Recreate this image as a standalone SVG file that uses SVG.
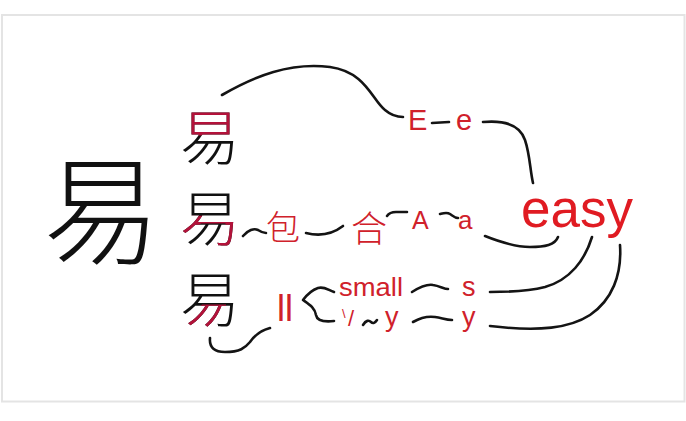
<svg xmlns="http://www.w3.org/2000/svg" width="686" height="421" viewBox="0 0 686 421">
<style>
.lk{fill:none;stroke:#141414;stroke-width:2.6;stroke-linecap:round;stroke-linejoin:round}
.t{font-family:"Liberation Sans",Arial,sans-serif;fill:#d0212b}
.cj{font-family:"Noto Sans CJK SC","Noto Sans CJK JP",sans-serif;font-weight:300}
.cr{fill:#d0212b}
.yi{font-family:"Noto Sans CJK SC","Noto Sans CJK JP",sans-serif;font-size:60px;text-anchor:middle;font-weight:300}
.k{fill:#111}
.r{fill:#b3123a}
</style>
<defs>
<clipPath id="c1"><rect x="170" y="95" width="80" height="40.5"/></clipPath>
<clipPath id="c2"><polygon points="178,215.8 204,215.8 204,216.5 238,216.5 238,252 216,252 216,241 225.5,241 225.5,223.5 201,223.5 178,242"/></clipPath>
<clipPath id="c3"><polygon points="202,304.5 226,304.5 226,319 217,319 217,334 178,334 178,327"/></clipPath>
</defs>
<rect x="0" y="0" width="686" height="421" fill="#ffffff"/>
<rect x="2" y="15" width="682.5" height="386.5" fill="#ffffff" stroke="#e4e4e4" stroke-width="2"/>

<g id="big-yi"><text class="cj k" x="102" y="255" font-size="118" text-anchor="middle">易</text></g>

<g id="yi1"><text class="yi k" x="210" y="160">易</text><text class="yi r" x="210" y="160" clip-path="url(#c1)">易</text></g>
<g id="yi2"><text class="yi k" x="210" y="241">易</text><text class="yi r" x="210" y="241" clip-path="url(#c2)">易</text></g>
<g id="yi3"><text class="yi k" x="210" y="322">易</text><text class="yi r" x="210" y="322" clip-path="url(#c3)">易</text></g>

<g id="n-E"><text class="t" x="408" y="130" font-size="29">E</text></g>
<g id="n-e"><text class="t" x="456" y="130" font-size="29">e</text></g>
<g id="n-bao"><text class="cj cr" x="283" y="240" font-size="34" text-anchor="middle">包</text></g>
<g id="n-he"><text class="cj cr" x="369" y="242" font-size="36" text-anchor="middle">合</text></g>
<g id="n-A"><text class="t" x="412" y="229" font-size="25">A</text></g>
<g id="n-a"><text class="t" x="458" y="229" font-size="26">a</text></g>
<g id="n-easy"><text class="t" x="521" y="227" font-size="54" style="fill:#e01b22" textLength="112" lengthAdjust="spacingAndGlyphs">easy</text></g>
<g id="n-ll"><text class="t" x="277" y="321" font-size="36">ll</text></g>
<g id="n-small"><text class="t" x="339" y="296" font-size="25" textLength="64" lengthAdjust="spacingAndGlyphs">small</text></g>
<g id="n-s"><text class="t" x="462" y="296" font-size="27">s</text></g>
<g id="n-vy"><text class="t" font-size="22"><tspan x="342" y="318" font-size="13">\</tspan><tspan x="348" y="326">/</tspan></text></g>
<g id="n-y1"><text class="t" x="385" y="326" font-size="27">y</text></g>
<g id="n-y2"><text class="t" x="462" y="326" font-size="27">y</text></g>

<g id="connectors">
<path class="lk" d="M222,95 C255,76 290,62 330,67 C366,72 372,100 385,110 C392,116 397,117 403,117"/>
<path class="lk" d="M432,123 L449,122"/>
<path class="lk" d="M483,122 C505,120 520,125 525,140 C530,155 530,170 533,183"/>
<path class="lk" d="M243,236 C248,230 254,228 258,230 C261,232 263,233 266,233"/>
<path class="lk" d="M306,233 C318,236 330,236 343,226"/>
<path class="lk" d="M387,216 C389,213 392,212 396,212 L407,212"/>
<path class="lk" d="M440,214 C444,213 447,212 450,214 C453,216 455,218 458,218"/>
<path class="lk" d="M485,236 C500,242 515,247 530,247 C545,247 555,245 558,237"/>
<path class="lk" d="M592,237 C585,260 570,280 545,287 C525,292 505,292 490,292"/>
<path class="lk" d="M620,245 C622,275 612,300 590,315 C570,328 540,332 490,326"/>
<path class="lk" d="M412,292 C420,287 427,284 433,285 C440,286 444,289 448,289"/>
<path class="lk" d="M413,322 C420,318 428,316 435,317 C442,318 446,320 452,320"/>
<path class="lk" d="M363,325 C366,320 369,320 371,322 C373,324 375,323 377,320"/>
<path class="lk" d="M334,292 C328,290 324,286 318,288 C312,290 306,296 303,300 C310,305 315,308 316,315 C317,321 325,322 334,321"/>
<path class="lk" d="M210,338 C209,348 215,352 225,352 C240,352 245,348 250,342 C255,335 262,330 270,328"/>
</g>
</svg>
